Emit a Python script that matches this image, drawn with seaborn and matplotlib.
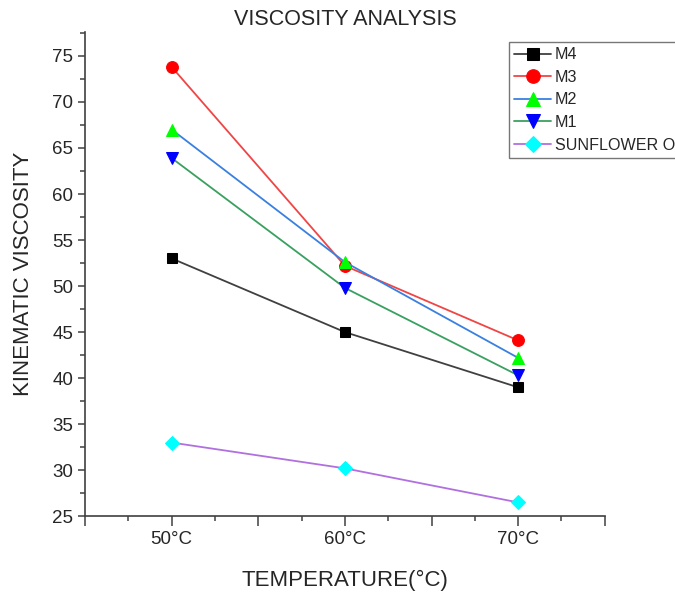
import matplotlib
matplotlib.use("Agg")
import matplotlib.pyplot as plt
import seaborn as sns
from matplotlib.ticker import MultipleLocator, FixedLocator

# datos
temps = [50, 60, 70]
temp_labels = ['50°C', '60°C', '70°C']
m4 = [53.0, 45.0, 39.0]
m3 = [73.8, 52.2, 44.1]
m2 = [67.0, 52.6, 42.2]
m1 = [63.9, 49.8, 40.3]
sunflower = [33.0, 30.2, 26.5]

sns.set_style('ticks')
plt.rcParams['font.family'] = ['Liberation Sans', 'DejaVu Sans']

fig = plt.figure(figsize=(6.75, 5.92), dpi=100)
ax = fig.add_axes([0.126, 0.128, 0.77, 0.818])

series = [
    ('M4', m4, '#404040', 's', 'black'),
    ('M3', m3, '#f04545', 'o', 'red'),
    ('M2', m2, '#3a80e0', '^', '#00ff00'),
    ('M1', m1, '#3aa060', 'v', 'blue'),
    ('SUNFLOWER OIL', sunflower, '#b070e0', 'D', 'cyan'),
]
sizes = {'s': 7.5, 'o': 8.5, '^': 8.5, 'v': 8.5, 'D': 7}

for name, vals, lc, mk, mc in series:
    sns.lineplot(x=temps, y=vals, ax=ax, color=lc, linewidth=1.3, marker=mk,
                 markersize=sizes[mk], markerfacecolor=mc, markeredgecolor=mc,
                 label=name)

ax.set_xlim(45, 75)
ax.set_ylim(25, 77.6)
ax.xaxis.set_major_locator(FixedLocator([45, 50, 55, 60, 65, 70, 75]))
ax.set_xticklabels(['', temp_labels[0], '', temp_labels[1], '', temp_labels[2], ''])
ax.xaxis.set_minor_locator(MultipleLocator(2.5))
ax.yaxis.set_major_locator(MultipleLocator(5))
ax.yaxis.set_minor_locator(MultipleLocator(2.5))
ax.tick_params(axis='both', which='major', labelsize=13.5, direction='out',
               color='#404040', width=1.1)
ax.tick_params(axis='x', which='major', length=7)
ax.tick_params(axis='y', which='major', length=5)
ax.tick_params(axis='both', which='minor', length=3.5, color='#404040', width=1.1)

sns.despine(ax=ax)
for s in ['left', 'bottom']:
    ax.spines[s].set_color('#404040')
    ax.spines[s].set_linewidth(1.2)

ax.set_title('VISCOSITY ANALYSIS', fontsize=15.5, pad=5)
ax.set_xlabel('TEMPERATURE(°C)', fontsize=16, labelpad=16)
ax.set_ylabel('KINEMATIC VISCOSITY', fontsize=16, labelpad=13)

# la leyenda se corta en el borde derecho como en el original
leg = ax.legend(loc='upper left', bbox_to_anchor=(0.815, 0.98), fontsize=11.6,
                frameon=True, fancybox=False, borderpad=0.35, labelspacing=0.47,
                handlelength=2.3, handletextpad=0.2, borderaxespad=0,
                markerscale=1.15)
leg.get_frame().set_edgecolor('#555555')
leg.get_frame().set_linewidth(1.0)

fig.savefig('out.png', dpi=100)
